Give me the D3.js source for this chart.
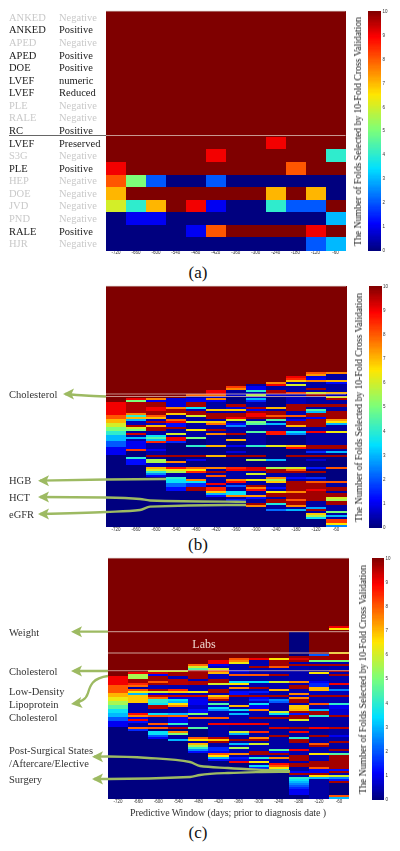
<!DOCTYPE html>
<html>
<head>
<meta charset="utf-8">
<script src="https://cdn.jsdelivr.net/npm/d3@7"></script>
<style>
  html, body { margin: 0; padding: 0; background: #fff; }
  svg { display: block; font-family: "Liberation Serif", serif; }
  .soft { filter: blur(0.5px); }
  .softer { filter: blur(0.3px); }
  rect { shape-rendering: crispEdges; }
</style>
</head>
<body>
<div id="chart"></div>
<script>
// =====================================
// DATA
// =====================================

const windows = [-720, -660, -600, -540, -480, -420, -360, -300, -240, -180, -120, -60];
const cbarTicks = [0, 1, 2, 3, 4, 5, 6, 7, 8, 9, 10];
const cbarTitle = "The Number of Folds Selected by 10-Fold Cross Validation";

const featuresA = ["ANKED", "ANKED", "APED", "APED", "DOE", "LVEF", "LVEF", "PLE", "RALE", "RC", "LVEF", "S3G", "PLE", "HEP", "DOE", "JVD", "PND", "RALE", "HJR"];
const statesA = ["Negative", "Positive", "Negative", "Positive", "Positive", "numeric", "Reduced", "Negative", "Negative", "Positive", "Preserved", "Negative", "Positive", "Negative", "Negative", "Negative", "Negative", "Positive", "Negative"];

// one row per feature, one value per window
const valuesA = [
  [10, 10, 10, 10, 10, 10, 10, 10, 10, 10, 10, 10],
  [10, 10, 10, 10, 10, 10, 10, 10, 10, 10, 10, 10],
  [10, 10, 10, 10, 10, 10, 10, 10, 10, 10, 10, 10],
  [10, 10, 10, 10, 10, 10, 10, 10, 10, 10, 10, 10],
  [10, 10, 10, 10, 10, 10, 10, 10, 10, 10, 10, 10],
  [10, 10, 10, 10, 10, 10, 10, 10, 10, 10, 10, 10],
  [10, 10, 10, 10, 10, 10, 10, 10, 10, 10, 10, 10],
  [10, 10, 10, 10, 10, 10, 10, 10, 10, 10, 10, 10],
  [10, 10, 10, 10, 10, 10, 10, 10, 10, 10, 10, 10],
  [10, 10, 10, 10, 10, 10, 10, 10, 10, 10, 10, 10],
  [10, 10, 10, 10, 10, 10, 10, 10, 9, 10, 10, 10],
  [10, 10, 10, 10, 10, 9, 10, 10, 10, 10, 10, 4],
  [9, 10, 10, 10, 10, 10, 10, 10, 10, 8, 10, 10],
  [8, 5, 2, 0, 0, 2, 0, 0, 0, 0, 0, 0],
  [7, 10, 10, 10, 10, 10, 10, 10, 7, 10, 7, 0],
  [6, 4, 7, 10, 9, 1, 0, 0, 4, 2, 2, 10],
  [0, 1, 1, 0, 0, 0, 0, 0, 0, 0, 0, 3],
  [0, 0, 0, 0, 1, 8, 10, 10, 10, 10, 9, 10],
  [0, 0, 0, 0, 0, 0, 0, 0, 0, 0, 2, 3]
];

// panels b and c: 120 sorted features, each window listed as [first row, value] bands
const bandsB = [
  [[0,10],[58,9],[64,8],[66,7],[68,6],[70,5],[72,4],[74,3],[77,2],[80,1],[84,0]],
  [[0,10],[56,9],[57,5],[58,9.6],[63,7.5],[64,4],[65,7],[66,3],[67,0.5],[69,9.6],[70,6],[71,5],[72,0.3],[73,9.3],[74,0.3],[75,3],[76,0.4],[77,1],[81,8.3],[82,0],[85,4],[86,1.2],[89,0]],
  [[0,10],[56,7.5],[57,1],[58,9.7],[60,9],[62,9.7],[64,8],[65,7],[66,0.5],[67,9.6],[68,0.6],[69,7],[70,9.7],[72,0.3],[74,3.5],[75,4.5],[76,3],[77,8.5],[78,0.3],[81,1],[82,0.3],[84,9.7],[85,0.2],[86,5.5],[88,0.5],[90,7],[91,6],[92,4],[93,2.5],[94,1],[95,0]],
  [[0,10],[56,0.8],[60,7.5],[61,9.7],[63,6.8],[64,0.3],[66,7.8],[67,9],[68,1.2],[70,9.7],[71,0.3],[73,6],[74,0.3],[75,9],[77,1.5],[78,0],[84,9.7],[85,0],[87,7.5],[88,0.3],[90,8.7],[91,6.3],[92,5.5],[93,0.3],[95,4],[96,3.5],[98,2.2],[100,1.2],[102,0]],
  [[0,10],[54,7.8],[55,0.3],[56,1],[58,9.7],[60,3.5],[61,0.5],[62,9.7],[64,6],[65,0.3],[67,6],[68,0.3],[71,6.5],[72,0.3],[75,5],[76,0],[79,4],[80,0],[84,9.7],[85,0],[86,1],[87,0],[90,7.8],[91,6.5],[92,8.5],[93,0.3],[96,7.5],[97,3.5],[98,1.5],[100,9.7],[102,0]],
  [[0,10],[52,9],[54,7.8],[55,0.6],[56,7.5],[57,1],[58,0.3],[61,6.8],[62,0.3],[63,9.7],[66,0.3],[67,6.8],[68,7.8],[69,0.3],[71,9.7],[72,0.3],[73,7.5],[74,0.2],[79,7],[80,0],[84,7],[85,0],[90,7.5],[91,0.3],[92,9.7],[93,0.3],[94,8],[95,0.3],[98,9],[99,0.3],[100,8.5],[102,6.8],[103,3],[104,1.2],[105,0]],
  [[0,10],[50,8.3],[51,7.5],[52,0.3],[54,0.7],[55,0],[59,9.6],[60,0.8],[61,6.8],[62,0.4],[63,9.7],[65,9],[66,6],[67,0.3],[68,1.2],[69,2.5],[70,0.3],[73,9.6],[74,0],[76,7],[77,0],[79,1],[80,0],[82,0.8],[83,0],[84,9.7],[85,0],[90,8.5],[91,9],[92,0.3],[96,7.5],[97,8.8],[98,0.3],[99,2],[100,0.3],[102,3.5],[104,7.5],[105,0.3],[106,1.3],[107,0]],
  [[0,10],[49,0.3],[50,1],[52,4],[53,0.5],[54,5.5],[55,0.5],[56,3],[57,1.5],[58,0.3],[60,9.6],[61,1],[62,9.7],[63,9],[65,9.7],[66,0.3],[67,5],[68,4.5],[69,0.3],[72,4.5],[73,0.3],[79,4],[80,0],[84,9.7],[85,0],[86,5.5],[87,0],[90,9.2],[92,0.3],[93,6],[94,0.3],[96,6.3],[97,0.3],[99,9.7],[100,7.5],[101,8.8],[102,0.3],[104,7.3],[105,1.2],[106,0.3],[108,9.7],[109,7.5],[110,0]],
  [[0,10],[48,7.5],[49,9],[50,0.3],[52,9.6],[54,0.8],[55,0],[60,7],[61,0.3],[62,9.7],[64,8],[65,9.7],[66,4.5],[67,0.3],[68,3],[69,0.3],[72,8.7],[74,0],[79,6.2],[80,0],[86,3],[87,0],[90,5.5],[91,9.7],[93,0.3],[95,7.5],[96,5.5],[97,6.8],[98,0.3],[100,1.2],[101,0.3],[102,6.5],[103,9.7],[105,0.3],[106,9.7],[108,3.8],[109,0.3],[111,2.2],[112,0]],
  [[0,10],[45,9],[46,8.5],[47,6.8],[48,0.3],[49,6],[50,0.3],[53,8.2],[54,0.5],[59,9.7],[62,0.4],[64,8],[65,0.3],[66,1],[67,9.7],[69,7],[70,0.3],[72,3.5],[73,2.5],[74,0],[79,7],[80,8.8],[81,0],[84,9.7],[85,0],[90,6],[91,8],[92,9.7],[93,0.3],[95,1.2],[96,0.3],[97,9.7],[102,7.5],[103,9.7],[106,8],[107,9.7],[109,7.5],[110,0.3],[111,3],[112,0]],
  [[0,10],[43,8],[44,7.3],[45,0.8],[46,1],[47,7.5],[48,0.3],[51,9.7],[52,0.3],[53,6],[54,9.7],[55,0.3],[59,9.7],[60,0.3],[61,4.5],[62,3],[63,9.7],[65,1],[66,9.7],[70,0.3],[72,9],[73,0.3],[79,9.7],[81,0.3],[82,1.5],[83,0],[84,9.7],[85,0],[86,0.7],[87,0],[90,1.3],[91,0],[92,9.7],[93,0],[95,1.5],[96,0.3],[97,8],[98,9.7],[101,9],[102,9.7],[107,0.3],[110,2.8],[111,9.7],[112,0.3],[113,6.8],[114,5.5],[115,3.5],[116,0]],
  [[0,10],[43,7.5],[44,0.3],[47,7],[48,1.2],[49,0.3],[53,7],[54,0.5],[55,6],[56,9.6],[57,0.3],[59,9.7],[60,0.3],[62,9.7],[66,7.3],[67,6.5],[68,3],[69,0.3],[72,6.3],[73,0.3],[79,9.7],[81,0.3],[82,3],[83,0],[84,9.7],[85,0],[90,8],[91,0],[97,8],[98,0.3],[100,9.7],[102,0.3],[103,9.7],[105,6],[106,5.5],[107,9.7],[109,0.3],[112,5],[113,0.3],[114,3],[115,0.3],[116,8.3],[118,6.5],[119,2.5]]
];

const bandsC = [
  [[0,10],[59,9],[63,8],[67,7],[69,6.3],[71,5.5],[73,4.5],[75,3.5],[77,3],[79,2],[81,1],[84,0]],
  [[0,10],[57,9],[58,5.5],[60,9.7],[62,8.5],[63,7.8],[64,0.3],[65,8],[66,6.5],[67,3],[68,6.8],[72,0.4],[77,8.8],[78,7.5],[79,1],[80,9],[81,1.2],[82,0.3],[84,7.8],[85,1.5],[86,0]],
  [[0,10],[56,6],[57,9.2],[58,1],[59,9.7],[61,8],[62,9.7],[63,0.5],[65,9.6],[66,6],[67,0.8],[68,9.4],[69,7.8],[70,4],[72,3.5],[73,9.6],[75,0.3],[77,3.5],[78,8],[79,0.3],[82,8],[83,0.3],[84,8],[85,0],[86,3.5],[88,2],[89,1],[90,0]],
  [[0,10],[56,6],[57,9.7],[59,0.5],[60,9.5],[63,0.4],[65,8.5],[66,6.8],[67,0.5],[68,9.4],[69,0.8],[70,3.5],[71,3],[72,6.5],[73,7.5],[74,0.4],[77,3],[78,7.8],[79,1],[82,4],[83,0.4],[84,9.6],[85,0],[86,7.5],[87,5],[88,0.3],[90,3],[91,0]],
  [[0,10],[53,7.8],[54,6],[55,4.5],[56,9.7],[60,0.5],[61,9.6],[63,0.4],[66,6.3],[67,0.5],[68,9.4],[69,0.8],[70,1],[73,0.6],[75,1.2],[77,5],[78,0.3],[79,8],[80,0.3],[84,4.5],[85,0],[89,8],[90,6.5],[91,0.3],[92,7],[93,5.5],[94,4],[95,2.5],[96,1.2],[97,0]],
  [[0,10],[51,9],[53,1],[54,0.5],[55,6],[56,8],[57,7],[58,0.5],[60,9.7],[62,6],[63,0.4],[65,9.7],[67,0.4],[68,6.8],[69,7.8],[70,9.6],[71,0.4],[72,4.5],[73,0.5],[74,3.5],[75,2.5],[76,0.4],[79,8],[80,0.3],[82,9],[83,0.3],[89,9.5],[90,6.8],[91,9.7],[92,0.3],[94,1.5],[96,1],[97,8],[98,6.5],[99,3],[100,1.2],[101,0]],
  [[0,10],[50,8],[51,7.5],[52,6.3],[53,0.4],[56,1],[57,0.6],[58,8],[59,0.3],[61,3.5],[62,6.5],[63,0.3],[64,7.5],[65,0.3],[66,1.2],[68,9.7],[69,0.3],[73,7],[74,0.3],[75,3.5],[76,0.4],[77,3],[78,0.4],[82,9],[83,0.2],[86,6],[87,3],[88,0.3],[90,9.7],[91,0.3],[92,3],[93,0.4],[94,5.5],[95,0.4],[97,7.5],[98,0.4],[99,1.3],[100,0.8],[101,9],[102,0]],
  [[0,10],[50,9],[51,0.4],[54,9.7],[55,0.4],[58,8],[59,0.3],[61,3.5],[62,0.4],[64,9.7],[65,0.4],[66,1.4],[67,0.5],[68,9.7],[69,1],[70,1.5],[71,0.5],[72,3.5],[73,1],[75,7.5],[76,0.4],[79,9.7],[80,0.3],[82,9],[83,0.2],[86,8.5],[87,0.3],[89,7.5],[90,9.7],[91,0.3],[92,6],[93,0.4],[96,9.7],[98,0.4],[99,4],[100,0.4],[101,6.5],[102,0.3],[103,3.5],[104,1.5],[105,0]],
  [[0,10],[50,6.5],[51,9.7],[54,8],[55,0.4],[58,9.7],[59,0.3],[61,6],[62,0.4],[65,7],[66,0.3],[68,9.7],[69,0.3],[70,2.5],[71,2],[72,0.3],[76,6],[77,3.5],[78,0.4],[79,9.7],[80,0.3],[84,9.3],[85,0.2],[88,9.7],[89,0.3],[95,4.5],[96,1],[97,9.7],[98,0.3],[99,7.5],[100,0.3],[102,8.8],[103,8],[104,6.5],[105,4],[106,6],[107,0]],
  [[0,10],[37,0],[49,9.7],[50,9.2],[51,9.7],[52,0.4],[53,9.7],[54,0.4],[61,7.5],[62,0.4],[63,9.7],[65,0.4],[67,7.5],[68,0.5],[69,7.5],[70,9.7],[72,0.4],[73,6.8],[75,7],[76,9.7],[77,1.3],[78,9.7],[80,6],[81,0.3],[84,9.7],[85,0.3],[86,9],[87,0.3],[89,4],[90,9.7],[92,0.3],[95,9],[96,0.4],[98,9.7],[101,0.4],[102,9.7],[104,0.3],[106,1],[107,9.7],[108,0.5],[109,4],[110,3.5],[111,3],[112,2.5],[113,2],[114,1.5],[115,1],[118,0]],
  [[0,10],[48,2],[49,9.7],[51,5],[52,0.4],[53,9.7],[54,0.3],[57,6.5],[58,0.4],[61,1],[62,1.5],[64,7],[66,0.5],[68,9.7],[69,0.4],[72,8],[73,0.4],[75,3],[76,9.7],[78,4],[79,0.3],[84,9],[85,0.2],[88,9.7],[89,0.3],[92,8],[93,9.7],[94,0.4],[97,6.5],[98,0.4],[101,9.7],[104,8],[105,1],[107,9.7],[108,6.5],[109,3],[110,0.3]],
  [[0,10],[34,9],[35,6.5],[36,10],[47,6.5],[48,9.7],[51,5],[52,0.4],[53,9.7],[54,0.4],[56,9.7],[57,0.4],[58,9.7],[59,0.4],[62,9],[63,0.3],[65,2.5],[66,0.5],[68,9.7],[69,0.4],[72,4],[73,1],[75,0.7],[78,9.7],[79,0.3],[84,9.5],[85,0.3],[88,1],[89,0.3],[91,9.7],[92,0.3],[95,9.7],[96,0.4],[97,4.5],[98,9.7],[105,1.2],[106,9.7],[107,0.4],[108,6],[109,2.5],[110,1.3],[111,9.7],[112,0],[118,8],[119,3]]
];

// =====================================
// SVG
// =====================================

const width = 400;
const height = 851;
const rowCount = 120;

const svg = d3.select("#chart")
  .append("svg")
  .attr("width", width)
  .attr("height", height)
  .attr("viewBox", `0 0 ${width} ${height}`);

// =====================================
// COLORS (jet)
// =====================================

const jet = d3.scaleLinear()
  .domain([0, 1.1, 3.4, 5, 6.5, 8.9, 10])
  .range(["#00007f", "#0000ff", "#00e0ff", "#7cff79", "#ffe600", "#ff0000", "#7f0000"]);

// =====================================
// PANEL FRAME: x axis, colorbar, title
// =====================================

function drawFrame(box, bar) {

  const x = d3.scaleBand()
    .domain(windows)
    .range([box.left, box.right]);

  const axis = svg.append("g")
    .attr("class", "soft")
    .attr("transform", `translate(0,${box.bottom})`)
    .call(d3.axisBottom(x).tickSize(0).tickPadding(1));

  axis.select(".domain").remove();
  axis.selectAll("text")
    .style("font-family", "Liberation Sans")
    .style("font-size", "4.5px")
    .style("fill", "#333");

  const scale = d3.scaleLinear()
    .domain([0, 10])
    .range([box.bottom, box.top]);

  svg.append("g")
    .attr("class", "softer")
    .selectAll("rect")
    .data(d3.range(0, 10, 0.05))
    .enter()
    .append("rect")
    .attr("x", bar.left)
    .attr("y", d => scale(d + 0.05))
    .attr("width", bar.right - bar.left)
    .attr("height", d => scale(d) - scale(d + 0.05) + 0.5)
    .attr("fill", d => jet(d));

  const barAxis = svg.append("g")
    .attr("class", "soft")
    .attr("transform", `translate(${bar.right},0)`)
    .call(d3.axisRight(scale).tickValues(cbarTicks).tickSize(0).tickPadding(1.5));

  barAxis.select(".domain").remove();
  barAxis.selectAll("text")
    .style("font-family", "Liberation Sans")
    .style("font-size", "4.5px")
    .style("fill", "#333");

  svg.append("text")
    .attr("class", "softer")
    .attr("transform", `translate(${bar.titleX},${(box.top + box.bottom) / 2 + 1}) rotate(-90)`)
    .attr("text-anchor", "middle")
    .attr("textLength", 229)
    .style("font-size", "10px")
    .style("fill", "#222")
    .text(cbarTitle);

  return x;
}

function drawBands(box, bar, columns) {

  const x = drawFrame(box, bar);

  const y = d3.scaleLinear()
    .domain([0, rowCount])
    .range([box.top, box.bottom]);

  const cols = svg.append("g")
    .attr("class", "soft")
    .selectAll("g")
    .data(columns)
    .enter()
    .append("g")
    .attr("transform", (d, i) => `translate(${x(windows[i])},0)`);

  cols.selectAll("rect")
    .data(d => d.map((b, i) => ({
      start: b[0],
      end: i + 1 < d.length ? d[i + 1][0] : rowCount,
      value: b[1]
    })))
    .enter()
    .append("rect")
    .attr("y", d => y(d.start))
    .attr("width", x.bandwidth() + 0.5)
    .attr("height", d => y(d.end) - y(d.start) + 0.2)
    .attr("fill", d => jet(d.value));
}

// =====================================
// PANEL A
// =====================================

const boxA = { left: 106, right: 345.5, top: 11, bottom: 250 };
const barA = { left: 368, right: 381, titleX: 361 };

const xA = drawFrame(boxA, barA);

const yA = d3.scaleBand()
  .domain(d3.range(featuresA.length))
  .range([boxA.top, boxA.bottom]);

svg.append("g")
  .attr("class", "softer")
  .selectAll("g")
  .data(valuesA)
  .enter()
  .append("g")
  .selectAll("rect")
  .data((row, r) => row.map((v, c) => ({ r, c, v })))
  .enter()
  .append("rect")
  .attr("x", d => xA(windows[d.c]))
  .attr("y", d => yA(d.r))
  .attr("width", xA.bandwidth() + 0.5)
  .attr("height", yA.bandwidth() + 0.5)
  .attr("fill", d => jet(d.v));

const rowLabels = svg.append("g")
  .attr("class", "softer")
  .selectAll("g")
  .data(featuresA)
  .enter()
  .append("g")
  .attr("transform", (d, i) => `translate(0,${yA(i) + yA.bandwidth() / 2 + 3.5})`)
  .style("font-size", "10.5px")
  .style("fill", (d, i) => statesA[i] === "Negative" ? "#c9c9c9" : "#1a1a1a");

rowLabels.append("text")
  .attr("x", 9)
  .text(d => d);

rowLabels.append("text")
  .attr("x", 59)
  .text((d, i) => statesA[i]);

// =====================================
// PANELS B AND C
// =====================================

const boxB = { left: 106, right: 346, top: 286, bottom: 527 };
const barB = { left: 369, right: 381.5, titleX: 362 };
drawBands(boxB, barB, bandsB);

const boxC = { left: 108, right: 349, top: 558, bottom: 799 };
const barC = { left: 372, right: 384, titleX: 366 };
drawBands(boxC, barC, bandsC);

// =====================================
// SEPARATOR LINES
// =====================================

const thin = (x1, x2, y, stroke, w) => svg.append("line")
  .attr("x1", x1).attr("x2", x2)
  .attr("y1", y).attr("y2", y)
  .attr("stroke", stroke)
  .attr("stroke-width", w);

thin(106, 345.5, 11.3, "#c4a5a0", 0.7);
thin(106, 346, 286.3, "#c4a5a0", 0.7);
thin(108, 349, 558.3, "#c4a5a0", 0.7);
thin(9, 106, 135.5, "#555", 0.9);
thin(106, 345.5, 135.5, "#cfa9a0", 0.9);
thin(106, 346, 394, "#d9b5ac", 0.8);
thin(106, 346, 396.5, "#d9b5ac", 0.8);
thin(108, 349, 631.7, "#d9b5ac", 0.9);
thin(108, 349, 653, "#d9b5ac", 0.9);
thin(108, 349, 670.7, "#d9b5ac", 0.8);

// =====================================
// ARROWS
// =====================================

const green = "#9dba62";
const curve = d3.line().curve(d3.curveMonotoneX);

const arrowLines = [
  [[106, 396.5], [85, 395.5], [65, 394]],
  [[166, 479], [106, 479.5], [40, 480.7]],
  [[246, 501.8], [226, 501.7], [150, 500.5], [140, 499], [106, 497.5], [40, 497]],
  [[246, 505], [226, 505], [150, 506.7], [140, 510], [106, 512], [40, 514]],
  [[108, 631.7], [74, 631.7]],
  [[108, 671], [74, 671]],
  [[290, 771.2], [228, 768], [200, 766], [190, 762], [148, 758], [108, 756.5], [94, 756.7]],
  [[290, 771.6], [228, 773], [200, 775], [190, 777], [108, 779], [94, 779]]
];

svg.append("g")
  .attr("class", "softer")
  .selectAll("path")
  .data(arrowLines)
  .enter()
  .append("path")
  .attr("d", curve)
  .attr("fill", "none")
  .attr("stroke", green)
  .attr("stroke-width", 2.3);

// the low-density arrow bends back on itself, so it gets a plain cubic path
svg.append("path")
  .attr("class", "softer")
  .attr("d", "M108,676 C92,678 90,686 88,693 C86,700 80,702 74,703.5")
  .attr("fill", "none")
  .attr("stroke", green)
  .attr("stroke-width", 2.3);

const arrowTips = [
  [63, 394, 0], [38, 480.7, 0], [38, 497, 0], [38, 514, 0],
  [71, 631.7, 0], [71, 671, 0], [71, 704, -8], [92, 756.7, 0], [92, 779, 0]
];

svg.append("g")
  .attr("class", "softer")
  .selectAll("path")
  .data(arrowTips)
  .enter()
  .append("path")
  .attr("transform", d => `translate(${d[0]},${d[1]}) rotate(${d[2]})`)
  .attr("d", "M0,0 L11,-5.5 L8.5,0 L11,5.5 Z")
  .attr("fill", green);

// =====================================
// CALLOUT TEXT
// =====================================

const callouts = [
  ["Cholesterol", 9, 398],
  ["HGB", 9, 484],
  ["HCT", 9, 501],
  ["eGFR", 9, 518],
  ["Weight", 9, 636],
  ["Cholesterol", 9, 675],
  ["Low-Density", 9, 695],
  ["Lipoprotein", 9, 708],
  ["Cholesterol", 9, 720.5],
  ["Post-Surgical States", 9, 754],
  ["/Aftercare/Elective", 9, 767],
  ["Surgery", 9, 783]
];

svg.append("g")
  .attr("class", "softer")
  .selectAll("text")
  .data(callouts)
  .enter()
  .append("text")
  .attr("x", d => d[1])
  .attr("y", d => d[2])
  .style("font-size", "10.5px")
  .style("fill", "#333")
  .text(d => d[0]);

svg.append("text")
  .attr("class", "softer")
  .attr("x", 204)
  .attr("y", 648)
  .attr("text-anchor", "middle")
  .style("font-size", "12px")
  .style("fill", "#f0d8d0")
  .text("Labs");

svg.append("text")
  .attr("class", "softer")
  .attr("x", 228)
  .attr("y", 816)
  .attr("text-anchor", "middle")
  .attr("textLength", 196)
  .style("font-size", "10px")
  .style("fill", "#333")
  .text("Predictive Window (days; prior to diagnosis date )");

// =====================================
// PANEL LETTERS
// =====================================

const panelLetters = [["(a)", 278], ["(b)", 550], ["(c)", 838]];

svg.append("g")
  .selectAll("text")
  .data(panelLetters)
  .enter()
  .append("text")
  .attr("x", 198)
  .attr("y", d => d[1])
  .attr("text-anchor", "middle")
  .style("font-size", "17px")
  .style("fill", "#111")
  .text(d => d[0]);
</script>
</body>
</html>
